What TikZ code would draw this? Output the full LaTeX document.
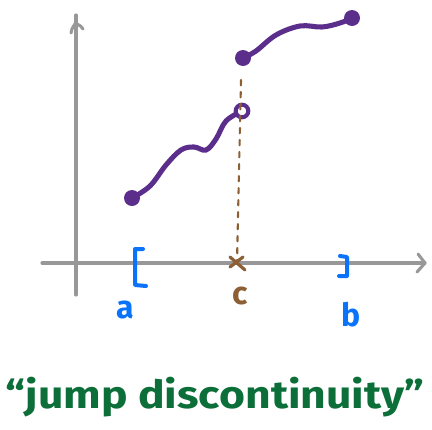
\documentclass[tikz,border=0pt]{standalone}
\usepackage{fontspec}
\setmainfont{Fira Sans}
\usetikzlibrary{positioning}
\definecolor{axisgray}{RGB}{152,152,152}
\definecolor{fpurple}{RGB}{92,46,140}
\definecolor{ivblue}{RGB}{10,115,250}
\definecolor{cbrown}{RGB}{140,96,52}
\definecolor{tgreen}{RGB}{12,110,56}

\begin{document}
\begin{tikzpicture}[
    x=0.75pt, y=-0.75pt,
    axis/.style={draw=axisgray, line width=2.3pt, line cap=round, line join=round},
    graph/.style={draw=fpurple, line width=3.8pt, line cap=round},
    filldot/.style={circle, fill=fpurple, inner sep=0pt, minimum size=12pt},
    opendot/.style={circle, draw=fpurple, line width=3pt, fill=white, inner sep=0pt, minimum size=9.5pt},
    bracket/.style={draw=ivblue, line width=3pt, line cap=round, line join=round},
    guide/.style={draw=cbrown, line width=1.6pt, dash pattern=on 4pt off 5pt, line cap=round},
    endlabel/.style={text=ivblue, font=\bfseries\fontsize{24}{24}\selectfont},
    >=stealth
]
\useasboundingbox (0,0) rectangle (432,429);

% Axes
\coordinate (origin) at (76,263);
\coordinate (xstart) at (42,263);
\coordinate (xend) at (425,263);
\coordinate (ybottom) at (76,295);
\coordinate (yend) at (76,15);
\draw[axis] (xstart) -- (xend);
\draw[axis] (ybottom) -- (yend);
\draw[axis] (xend) ++(-7,-9) -- (xend) -- ++(-8,9);
\draw[axis, rounded corners=3pt] (yend) ++(-5,18) -- ++(2,-8) -- ++(5,-2) -- ++(5,6);

% Endpoints of the two pieces
\coordinate (lowstart) at (132,198);
\coordinate (lowend) at (242,111);
\coordinate (upstart) at (243,58);
\coordinate (upend) at (352,18);

% Graph pieces
\draw[graph] plot[smooth, tension=0.6] coordinates {(lowstart) (150,186) (166,165) (181,150) (194,147) (206,150) (216,139) (226,121) (lowend)};
\draw[graph] plot[smooth, tension=0.6] coordinates {(upstart) (256,51) (276,35) (300,26) (322,27) (340,23) (upend)};

\node[filldot] (a dot) at (lowstart) {};
\node[opendot] (hole) at (lowend) {};
\node[filldot] (jump dot) at (upstart) {};
\node[filldot] (b dot) at (upend) {};

% Point c on the axis
\coordinate (cpt) at (237,263);
\draw[guide] (241,80) -- (cpt);
\draw[draw=cbrown, line width=2.4pt, line cap=round] (cpt) ++(-7,-6) -- ++(15,13);
\draw[draw=cbrown, line width=2.4pt, line cap=round] (cpt) ++(6,-6) -- ++(-13,10);

% Interval [a, b]
\draw[bracket] (143,249) -- (135,249) -- (135,285) -- (146,286);
\draw[bracket] (340,256) -- (347,257) -- (347,276) -- (339,276);

% Labels
\node[endlabel] (alabel) at (125,310) {a};
\node[endlabel, text=cbrown] (clabel) at (240,296) {c};
\node[endlabel] (blabel) at (351,315) {b};

% Caption
\node[text=tgreen, font=\bfseries\fontsize{29}{29}\selectfont, xscale=1.15] (caption) at (215,397) {“jump discontinuity”};

\end{tikzpicture}
\end{document}
